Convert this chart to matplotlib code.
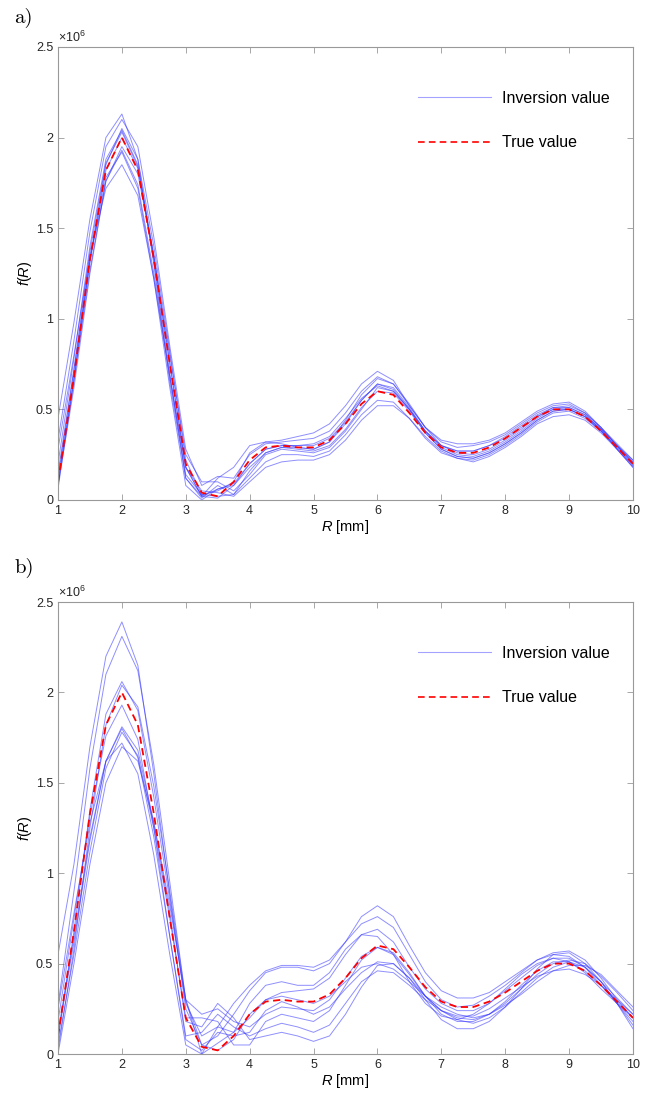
import matplotlib
matplotlib.use("Agg")
import matplotlib.pyplot as plt
from matplotlib.lines import Line2D

plt.rcParams['font.family'] = ['Liberation Sans', 'DejaVu Sans']
plt.rcParams['mathtext.fontset'] = 'custom'
plt.rcParams['mathtext.it'] = 'Liberation Sans:italic'
plt.rcParams['mathtext.rm'] = 'Liberation Sans'

# R grid [mm] and curves in units of 1e6
R = [1.0, 1.25, 1.5, 1.75, 2.0, 2.25, 2.5, 2.75, 3.0, 3.25, 3.5, 3.75, 4.0,
     4.25, 4.5, 4.75, 5.0, 5.25, 5.5, 5.75, 6.0, 6.25, 6.5, 6.75, 7.0, 7.25,
     7.5, 7.75, 8.0, 8.25, 8.5, 8.75, 9.0, 9.25, 9.5, 9.75, 10.0]

true_val = [0.10, 0.68, 1.33, 1.82, 2.00, 1.82, 1.33, 0.75, 0.20, 0.04, 0.02, 0.10, 0.22,
            0.29, 0.30, 0.29, 0.29, 0.33, 0.42, 0.53, 0.60, 0.58, 0.48, 0.37, 0.29, 0.26,
            0.26, 0.29, 0.34, 0.40, 0.46, 0.50, 0.50, 0.46, 0.38, 0.29, 0.20]

inv_a = [
    [0.45, 0.98, 1.55, 2.00, 2.13, 1.88, 1.30, 0.65, 0.12, 0.02, 0.12, 0.18, 0.30, 0.32, 0.33, 0.35, 0.37, 0.42, 0.52, 0.64, 0.71, 0.66, 0.52, 0.40, 0.33, 0.31, 0.31, 0.33, 0.37, 0.43, 0.49, 0.53, 0.54, 0.49, 0.40, 0.31, 0.22],
    [0.33, 0.88, 1.48, 1.95, 2.10, 1.95, 1.45, 0.85, 0.28, 0.08, 0.13, 0.12, 0.25, 0.31, 0.32, 0.33, 0.34, 0.38, 0.48, 0.60, 0.68, 0.64, 0.52, 0.40, 0.32, 0.29, 0.30, 0.32, 0.36, 0.42, 0.48, 0.52, 0.53, 0.48, 0.40, 0.30, 0.21],
    [0.06, 0.66, 1.32, 1.85, 2.05, 1.88, 1.40, 0.82, 0.22, 0.03, 0.05, 0.10, 0.26, 0.32, 0.31, 0.29, 0.28, 0.32, 0.44, 0.58, 0.67, 0.64, 0.53, 0.40, 0.30, 0.26, 0.25, 0.28, 0.33, 0.39, 0.46, 0.51, 0.52, 0.48, 0.40, 0.30, 0.20],
    [0.20, 0.78, 1.40, 1.88, 2.04, 1.85, 1.35, 0.75, 0.18, 0.02, 0.01, 0.08, 0.20, 0.28, 0.30, 0.30, 0.31, 0.35, 0.45, 0.56, 0.63, 0.60, 0.50, 0.38, 0.30, 0.27, 0.27, 0.30, 0.35, 0.41, 0.47, 0.51, 0.51, 0.47, 0.39, 0.30, 0.21],
    [0.12, 0.72, 1.37, 1.86, 2.03, 1.84, 1.32, 0.70, 0.12, 0.01, 0.08, 0.03, 0.16, 0.26, 0.29, 0.29, 0.28, 0.32, 0.42, 0.55, 0.64, 0.62, 0.51, 0.38, 0.29, 0.25, 0.24, 0.27, 0.32, 0.38, 0.45, 0.50, 0.51, 0.47, 0.39, 0.28, 0.19],
    [0.08, 0.62, 1.25, 1.76, 1.95, 1.80, 1.35, 0.80, 0.25, 0.10, 0.10, 0.05, 0.14, 0.25, 0.28, 0.27, 0.26, 0.29, 0.38, 0.50, 0.62, 0.60, 0.50, 0.37, 0.28, 0.24, 0.23, 0.26, 0.31, 0.37, 0.44, 0.49, 0.50, 0.46, 0.38, 0.29, 0.19],
    [0.10, 0.66, 1.27, 1.76, 1.93, 1.74, 1.25, 0.68, 0.14, 0.03, 0.02, 0.03, 0.12, 0.21, 0.25, 0.25, 0.24, 0.27, 0.36, 0.47, 0.55, 0.54, 0.45, 0.34, 0.26, 0.23, 0.22, 0.25, 0.30, 0.36, 0.43, 0.48, 0.49, 0.45, 0.38, 0.28, 0.18],
    [0.15, 0.72, 1.32, 1.78, 1.92, 1.72, 1.22, 0.62, 0.08, 0.00, 0.06, 0.08, 0.18, 0.26, 0.29, 0.28, 0.27, 0.30, 0.39, 0.51, 0.60, 0.59, 0.49, 0.37, 0.28, 0.24, 0.23, 0.26, 0.31, 0.37, 0.44, 0.49, 0.50, 0.46, 0.38, 0.29, 0.20],
    [0.28, 0.80, 1.35, 1.72, 1.85, 1.68, 1.22, 0.68, 0.18, 0.05, 0.04, 0.02, 0.10, 0.18, 0.21, 0.22, 0.22, 0.25, 0.33, 0.44, 0.52, 0.52, 0.45, 0.35, 0.27, 0.23, 0.21, 0.24, 0.29, 0.35, 0.42, 0.46, 0.47, 0.44, 0.37, 0.28, 0.18],
    [0.09, 0.68, 1.32, 1.82, 2.00, 1.83, 1.34, 0.76, 0.18, 0.02, 0.06, 0.09, 0.20, 0.28, 0.30, 0.30, 0.30, 0.34, 0.43, 0.55, 0.64, 0.61, 0.50, 0.38, 0.30, 0.27, 0.27, 0.30, 0.34, 0.40, 0.46, 0.50, 0.50, 0.46, 0.39, 0.30, 0.22],
]

inv_b = [
    [0.55, 1.05, 1.70, 2.20, 2.39, 2.15, 1.55, 0.88, 0.25, 0.05, 0.10, 0.22, 0.35, 0.45, 0.48, 0.48, 0.46, 0.50, 0.62, 0.76, 0.82, 0.76, 0.60, 0.45, 0.35, 0.31, 0.31, 0.34, 0.40, 0.46, 0.52, 0.55, 0.54, 0.48, 0.38, 0.28, 0.18],
    [0.27, 0.90, 1.58, 2.10, 2.31, 2.12, 1.60, 0.95, 0.30, 0.00, 0.15, 0.28, 0.38, 0.46, 0.49, 0.49, 0.48, 0.52, 0.62, 0.72, 0.76, 0.70, 0.55, 0.40, 0.30, 0.26, 0.27, 0.32, 0.38, 0.45, 0.52, 0.56, 0.57, 0.52, 0.42, 0.30, 0.20],
    [0.08, 0.68, 1.35, 1.88, 2.06, 1.90, 1.42, 0.85, 0.28, 0.10, 0.15, 0.12, 0.20, 0.30, 0.34, 0.35, 0.36, 0.42, 0.55, 0.66, 0.69, 0.62, 0.48, 0.36, 0.28, 0.24, 0.24, 0.28, 0.35, 0.42, 0.49, 0.53, 0.53, 0.48, 0.40, 0.31, 0.22],
    [0.02, 0.58, 1.25, 1.82, 2.04, 1.92, 1.48, 0.90, 0.30, 0.22, 0.25, 0.18, 0.15, 0.22, 0.26, 0.25, 0.24, 0.30, 0.42, 0.54, 0.59, 0.55, 0.44, 0.32, 0.24, 0.20, 0.19, 0.22, 0.28, 0.36, 0.44, 0.50, 0.52, 0.50, 0.43, 0.34, 0.24],
    [0.18, 0.75, 1.32, 1.76, 1.93, 1.74, 1.25, 0.65, 0.10, 0.12, 0.22, 0.15, 0.10, 0.14, 0.17, 0.15, 0.12, 0.16, 0.28, 0.40, 0.46, 0.45, 0.38, 0.30, 0.24, 0.21, 0.21, 0.25, 0.31, 0.37, 0.43, 0.46, 0.47, 0.44, 0.38, 0.30, 0.22],
    [0.10, 0.62, 1.18, 1.62, 1.81, 1.68, 1.28, 0.78, 0.18, 0.15, 0.28, 0.20, 0.08, 0.10, 0.12, 0.10, 0.07, 0.10, 0.22, 0.37, 0.49, 0.50, 0.42, 0.30, 0.19, 0.14, 0.14, 0.18, 0.26, 0.36, 0.47, 0.55, 0.56, 0.50, 0.40, 0.28, 0.14],
    [0.05, 0.55, 1.12, 1.58, 1.78, 1.65, 1.25, 0.75, 0.20, 0.20, 0.18, 0.05, 0.05, 0.18, 0.22, 0.20, 0.18, 0.24, 0.38, 0.52, 0.59, 0.56, 0.45, 0.32, 0.22, 0.18, 0.18, 0.22, 0.29, 0.38, 0.46, 0.51, 0.51, 0.46, 0.38, 0.29, 0.20],
    [0.25, 0.78, 1.28, 1.62, 1.72, 1.55, 1.10, 0.55, 0.05, 0.00, 0.06, 0.12, 0.28, 0.38, 0.40, 0.38, 0.38, 0.45, 0.58, 0.66, 0.65, 0.55, 0.40, 0.28, 0.21, 0.19, 0.22, 0.28, 0.36, 0.44, 0.50, 0.53, 0.51, 0.45, 0.36, 0.28, 0.20],
    [0.00, 0.50, 1.05, 1.50, 1.70, 1.62, 1.28, 0.82, 0.30, 0.05, 0.02, 0.08, 0.22, 0.30, 0.32, 0.30, 0.28, 0.32, 0.40, 0.48, 0.50, 0.47, 0.40, 0.32, 0.26, 0.22, 0.20, 0.22, 0.27, 0.33, 0.40, 0.46, 0.49, 0.49, 0.44, 0.35, 0.26],
    [0.12, 0.65, 1.20, 1.62, 1.80, 1.64, 1.20, 0.65, 0.08, 0.02, 0.12, 0.10, 0.12, 0.24, 0.29, 0.26, 0.22, 0.26, 0.36, 0.45, 0.51, 0.50, 0.42, 0.32, 0.24, 0.19, 0.17, 0.20, 0.26, 0.34, 0.42, 0.48, 0.51, 0.48, 0.40, 0.28, 0.16],
]

panels = [("a)", inv_a), ("b)", inv_b)]
positions = [[0.0884, 0.5455, 0.8765, 0.4118], [0.0884, 0.0418, 0.8765, 0.4109]]
label_y = [0.984, 0.484]

fig = plt.figure(figsize=(6.56, 11), dpi=100)

for (tag, curves), pos, ly in zip(panels, positions, label_y):
    ax = fig.add_axes(pos)
    for c in curves:
        ax.plot(R, c, color='#3333ff', lw=0.7, alpha=0.55)
    ax.plot(R, true_val, color='red', lw=1.3, ls=(0, (4, 2.5)))
    ax.set_xlim(1, 10)
    ax.set_ylim(0, 2.5)
    ax.set_xticks(range(1, 11))
    ax.set_yticks([0, 0.5, 1, 1.5, 2, 2.5])
    ax.set_yticklabels(['0', '0.5', '1', '1.5', '2', '2.5'])
    ax.tick_params(direction='in', top=True, right=True, length=4, width=0.6,
                   colors='#999999', labelcolor='#262626', labelsize=9)
    for s in ax.spines.values():
        s.set_color('#999999')
        s.set_linewidth(0.8)
    ax.set_xlabel('$R$ [mm]', fontsize=10.5, labelpad=0.5)
    ax.set_ylabel('$f(R)$', fontsize=10.5, labelpad=1)
    ax.text(0.0, 1.005, r'$\times\mathregular{10^6}$', transform=ax.transAxes,
            fontsize=9, color='#262626', va='bottom', ha='left')
    handles = [Line2D([], [], color='#3333ff', lw=0.8, alpha=0.45),
               Line2D([], [], color='red', lw=1.2, ls=(0, (4, 2.5)))]
    ax.legend(handles, ['Inversion value', 'True value'], loc='upper right',
              bbox_to_anchor=(0.985, 0.935), frameon=False, fontsize=11.5,
              handlelength=4.6, handletextpad=0.7, labelspacing=1.85)
    fig.text(0.022, ly, tag, fontsize=15, family='cmr10', va='center', ha='left')

fig.savefig('out.png', dpi=100)
